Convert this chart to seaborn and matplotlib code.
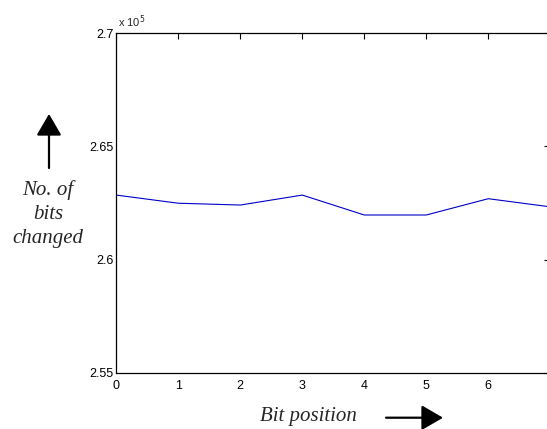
import matplotlib
matplotlib.use("Agg")
import matplotlib.pyplot as plt
import seaborn as sns
import pandas as pd

bit_position = [0, 1, 2, 3, 4, 5, 6, 7]
bits_changed = [262850, 262490, 262410, 262850, 261970, 261970, 262690, 262330]
y_ticks = [255000, 260000, 265000, 270000]
y_tick_labels = ["2.55", "2.6", "2.65", "2.7"]
x_ticks = [0, 1, 2, 3, 4, 5, 6, 7]

sns.set_style("white")
plt.rcParams["font.family"] = ["Liberation Sans", "DejaVu Sans"]

df = pd.DataFrame({"pos": bit_position, "bits": bits_changed})

W, H = 547, 429
fig = plt.figure(figsize=(W / 100, H / 100), dpi=100)
left, right = 116.3, 550.3
top, bottom = 33.3, 372.7
ax = fig.add_axes([left / W, 1 - bottom / H, (right - left) / W, (bottom - top) / H])

sns.lineplot(data=df, x="pos", y="bits", ax=ax, color="#0000c8", linewidth=0.8)

ax.set_xlim(0, 7)
ax.set_ylim(255000, 270000)
ax.set_xticks(x_ticks)
ax.set_yticks(y_ticks)
ax.set_yticklabels(y_tick_labels)
ax.set_xlabel("")
ax.set_ylabel("")
ax.tick_params(direction="in", length=4, width=0.8, labelsize=9, colors="black",
               top=True, right=True)
ax.tick_params(axis="x", pad=5)
ax.tick_params(axis="y", pad=2)
for s in ax.spines.values():
    s.set_color("black")
    s.set_linewidth(0.9)

fig.text(118 / W, 1 - 27 / H, r"x 10$^5$", fontsize=8, ha="left", va="baseline")

serif = ["Liberation Serif", "DejaVu Serif"]
for txt, yy in [("No. of", 195), ("bits", 219), ("changed", 243)]:
    fig.text(48 / W, 1 - yy / H, txt, fontsize=15, style="italic", family=serif,
             ha="center", va="baseline")
fig.text(308 / W, 1 - 416 / H, "Bit position", fontsize=15, style="italic", family=serif,
         ha="center", va="center")

fig.patches.append(matplotlib.patches.FancyArrowPatch(
    (49 / W, 1 - 168 / H), (49 / W, 1 - 114 / H), transform=fig.transFigure,
    arrowstyle="-|>,head_length=6,head_width=3.5", color="black", linewidth=1.6,
    mutation_scale=2.2, shrinkA=0, shrinkB=0))
fig.patches.append(matplotlib.patches.FancyArrowPatch(
    (386 / W, 1 - 417.7 / H), (443 / W, 1 - 417.7 / H), transform=fig.transFigure,
    arrowstyle="-|>,head_length=6,head_width=3.5", color="black", linewidth=1.6,
    mutation_scale=2.2, shrinkA=0, shrinkB=0))

fig.savefig("out.png", dpi=100, facecolor="white")
